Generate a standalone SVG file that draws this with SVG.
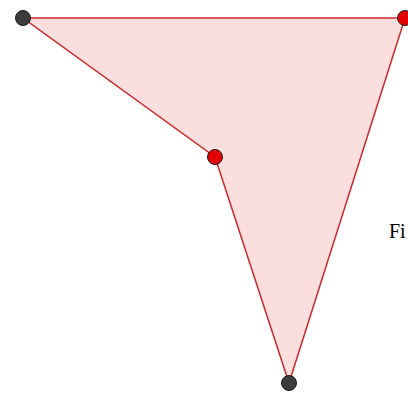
<svg xmlns="http://www.w3.org/2000/svg" width="408" height="395" viewBox="0 0 408 395">
<style>
.pt{stroke:#1a1a1a;stroke-width:1}
.dark{fill:#3c3c3c}
.red{fill:#e50000}
</style>
<rect width="408" height="395" fill="#ffffff"/>
<g id="connectors">
<polygon points="23,18 405,18 289,383 215,157" fill="#fbdfdf" stroke="#cc2a2a" stroke-width="1.5"/>
</g>
<g id="A"><circle class="pt dark" cx="23" cy="18" r="7.5"/></g>
<g id="B"><circle class="pt red" cx="405" cy="18" r="7.5"/></g>
<g id="C"><circle class="pt red" cx="215" cy="157" r="7.5"/></g>
<g id="D"><circle class="pt dark" cx="289" cy="383" r="7.5"/></g>
<g id="label"><text x="389" y="238" font-family="Liberation Serif, serif" font-size="20" fill="#000">Fi</text></g>
</svg>
